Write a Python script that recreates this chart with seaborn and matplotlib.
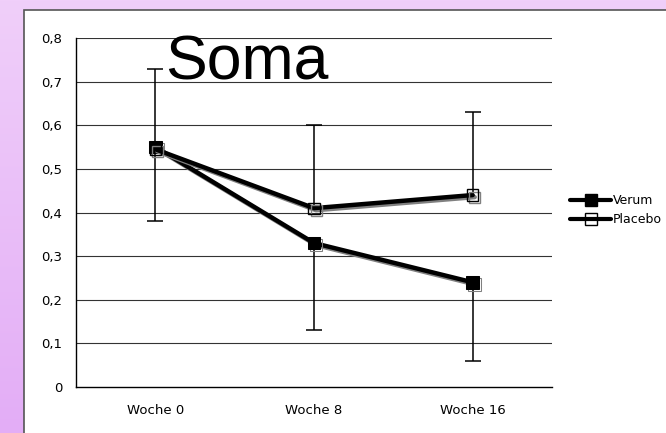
import numpy as np
import pandas as pd
import matplotlib
matplotlib.use("Agg")
import matplotlib.pyplot as plt
import matplotlib.patheffects as pe
from matplotlib.lines import Line2D
from matplotlib.patches import Rectangle
import seaborn as sns

# data
weeks = ['Woche 0', 'Woche 8', 'Woche 16']
verum = [0.55, 0.33, 0.24]
verum_err_low = [0.17, 0.20, 0.18]
placebo = [0.545, 0.41, 0.44]
placebo_err_high = [0.185, 0.19, 0.19]
y_ticks = [0, 0.1, 0.2, 0.3, 0.4, 0.5, 0.6, 0.7, 0.8]

sns.set_style("white")
plt.rcParams['font.family'] = ['DejaVu Sans']
plt.rcParams['text.color'] = 'black'
plt.rcParams['xtick.color'] = 'black'
plt.rcParams['ytick.color'] = 'black'

W, H = 666, 433
fig = plt.figure(figsize=(W / 100, H / 100), dpi=100)

# purple gradient frame behind the white panel
bg = fig.add_axes([0, 0, 1, 1], zorder=-10)
top_c = np.array(matplotlib.colors.to_rgb('#f0cffa'))
bot_c = np.array(matplotlib.colors.to_rgb('#e3adf6'))
t = np.linspace(0, 1, 200)[:, None]
grad = (top_c[None, :] * (1 - t) + bot_c[None, :] * t)[:, None, :]
bg.imshow(grad, aspect='auto', extent=[0, 1, 0, 1])
bg.add_patch(Rectangle((23.5 / W, -0.01), 1.1, 1 - 10 / H + 0.01, facecolor='white',
                       edgecolor='#555555', linewidth=1.2, transform=bg.transAxes))
bg.set_xlim(0, 1)
bg.set_ylim(0, 1)
bg.axis('off')

ax = fig.add_axes([76 / W, 1 - 387 / H, (552 - 76) / W, (387 - 38) / H])
ax.set_facecolor('none')

n = len(weeks)
df = pd.DataFrame({
    'pos': list(range(n)) * 2,
    'value': verum + placebo,
    'err_low': verum_err_low + [0] * n,
    'err_high': [0] * n + placebo_err_high,
    'group': ['Verum'] * n + ['Placebo'] * n,
})

shadow = [pe.SimpleLineShadow(offset=(1.5, -1.5), shadow_color='#808080', alpha=1), pe.Normal()]
styles = {
    'Verum': dict(marker='s', markersize=9, markerfacecolor='black', markeredgecolor='black'),
    'Placebo': dict(marker='s', markersize=8, markerfacecolor='none', markeredgecolor='black',
                    markeredgewidth=1),
}

for name in ['Verum', 'Placebo']:
    sub = df[df['group'] == name]
    # Verum bars only go down, Placebo bars only go up
    lo = sub['err_low'].to_numpy()
    hi = sub['err_high'].to_numpy()
    if lo.any():
        ax.errorbar(sub['pos'], sub['value'], yerr=[lo, np.zeros(n)], fmt='none', ecolor='black',
                    elinewidth=1.1, capsize=6, capthick=1.1, zorder=2)
    if hi.any():
        ax.errorbar(sub['pos'], sub['value'], yerr=[np.zeros(n), hi], fmt='none', ecolor='black',
                    elinewidth=1.1, capsize=6, capthick=1.1, zorder=2)
    sns.lineplot(x=sub['pos'], y=sub['value'], ax=ax, color='black', linewidth=3.2,
                 sort=False, zorder=3, path_effects=shadow, **styles[name])

# drop the caps that sit on the data points (zero-length side)
for ln in ax.lines:
    if ln.get_marker() == '_':
        xd, yd = ln.get_data()
        keep = [not np.any(np.isclose(y, verum + placebo)) for y in yd]
        ln.set_data(np.asarray(xd)[keep], np.asarray(yd)[keep])

ax.set_xlim(-0.5, n - 0.5)
ax.set_ylim(0, 0.8)
ax.set_yticks(y_ticks)
ax.set_yticklabels([f'{v:.1f}'.replace('.', ',') if v else '0' for v in y_ticks], fontsize=9.5)
ax.set_xticks(np.arange(n + 1) - 0.5)
ax.set_xticklabels([])
ax.set_xticks(range(n), minor=True)
ax.set_xticklabels(weeks, minor=True, fontsize=9.5)
ax.tick_params(axis='x', which='major', direction='out', length=4, width=1, color='black')
ax.tick_params(axis='x', which='minor', length=0, pad=12)
ax.tick_params(axis='y', direction='out', length=4, width=1, color='black', pad=6)
ax.set_xlabel('')
ax.set_ylabel('')
for v in y_ticks[1:]:
    ax.axhline(v, color='#333333', linewidth=0.8, zorder=1)
for s in ['top', 'right']:
    ax.spines[s].set_visible(False)
for s in ['left', 'bottom']:
    ax.spines[s].set_color('black')
    ax.spines[s].set_linewidth(1)

fig.text(247 / W, 1 - 80 / H, 'Soma', fontsize=45, family='Liberation Sans',
         color='black', ha='center', va='baseline')

handles = [Line2D([], [], color='black', linewidth=3, **styles[k]) for k in ['Verum', 'Placebo']]
fig.legend(handles, ['Verum', 'Placebo'], loc='center left',
           bbox_to_anchor=(570 / W, 1 - 210 / H), frameon=False, fontsize=9,
           handlelength=3.3, handletextpad=0.15, borderpad=0, borderaxespad=0,
           labelspacing=0.5)

fig.savefig('out.png', dpi=100)
